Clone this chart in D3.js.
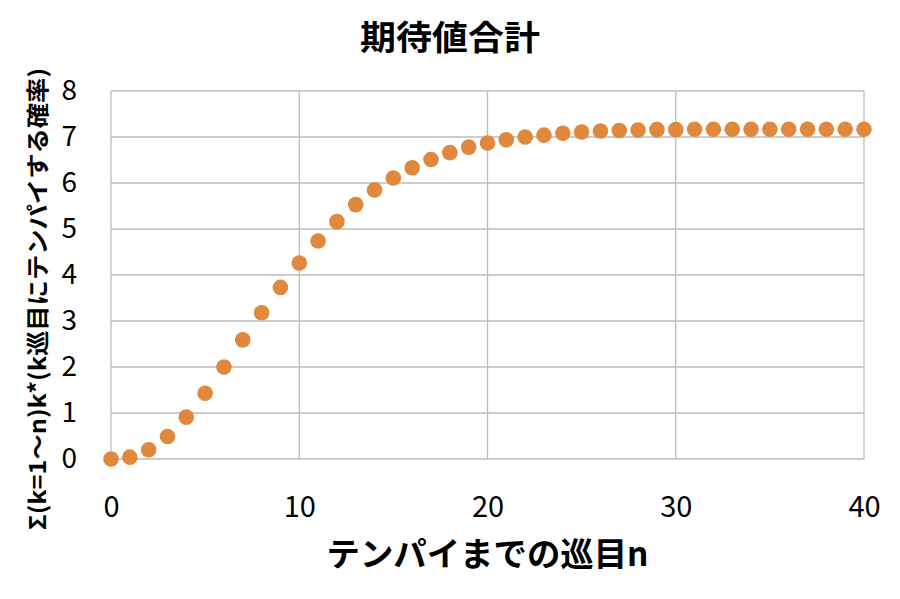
<!DOCTYPE html>
<html>
<head>
<meta charset="utf-8">
<script src="https://cdn.jsdelivr.net/npm/d3@7"></script>
<style>
  body { margin: 0; background: #fff; }
  text { font-family: "Noto Sans CJK JP", "Noto Sans", sans-serif; fill: #000; }
</style>
</head>
<body>
<div class="chart"></div>
<script>
// テンパイまでの巡目 n
const turns = d3.range(0, 41);
// 期待値合計 (各 n の値)
const expected = [
  0, 0.04, 0.2, 0.49, 0.91, 1.43, 2.0, 2.59, 3.18, 3.73,
  4.26, 4.74, 5.16, 5.53, 5.85, 6.11, 6.33, 6.51, 6.66, 6.78,
  6.87, 6.94, 7.0, 7.04, 7.08, 7.11, 7.13, 7.14, 7.15, 7.16,
  7.16, 7.17, 7.17, 7.17, 7.17, 7.17, 7.17, 7.17, 7.17, 7.17, 7.17
];
const xTicks = [0, 10, 20, 30, 40];
const yTicks = [0, 1, 2, 3, 4, 5, 6, 7, 8];

const titleText = "期待値合計";
const xTitle = "テンパイまでの巡目n";
const yTitle = "Σ(k=1～n)k*(k巡目にテンパイする確率)";

const points = turns.map((n, i) => ({ n: n, v: expected[i] }));

const svg_width = 900;
const svg_height = 599;
const margin = { top: 91, right: 36, bottom: 140, left: 111 };
const chart_width = svg_width - margin.left - margin.right;
const chart_height = svg_height - margin.top - margin.bottom;

const svg = d3.select('.chart').append('svg')
  .attr('width', svg_width).attr('height', svg_height);
const g = svg.append('g').attr('transform', `translate(${margin.left},${margin.top})`);

const x = d3.scaleLinear().domain([0, 40]).range([0, chart_width]);
const y = d3.scaleLinear().domain([0, 8]).range([chart_height, 0]);

// grid
g.append('g').selectAll('line').data(yTicks).enter().append('line')
  .attr('x1', 0).attr('x2', chart_width)
  .attr('y1', d => y(d)).attr('y2', d => y(d))
  .attr('stroke', '#bdbdbd').attr('stroke-width', 1.3);
g.append('g').selectAll('line').data(xTicks).enter().append('line')
  .attr('y1', 0).attr('y2', chart_height)
  .attr('x1', d => x(d)).attr('x2', d => x(d))
  .attr('stroke', '#bdbdbd').attr('stroke-width', 1.3);

// axes (labels only)
const xAxis = g.append('g').attr('transform', `translate(0,${chart_height})`)
  .call(d3.axisBottom(x).tickValues(xTicks).tickSize(0).tickPadding(37));
xAxis.select('.domain').remove();
xAxis.selectAll('text').attr('font-size', '29px').attr('fill', '#000')
  .style('font-family', '"Noto Sans CJK JP", sans-serif');

const yAxis = g.append('g')
  .call(d3.axisLeft(y).tickValues(yTicks).tickSize(0).tickPadding(34));
yAxis.select('.domain').remove();
yAxis.selectAll('text').attr('font-size', '28px').attr('fill', '#000')
  .style('font-family', '"Noto Sans CJK JP", sans-serif');

// markers
g.selectAll('.dot').data(points).enter().append('circle')
  .attr('class', 'dot')
  .attr('cx', d => x(d.n))
  .attr('cy', d => y(d.v))
  .attr('r', 7.8)
  .attr('fill', '#e0883c');

// titles
svg.append('text').attr('x', 450).attr('y', 50)
  .attr('text-anchor', 'middle').attr('font-size', '34px').attr('font-weight', 'bold')
  .attr('textLength', 180).attr('lengthAdjust', 'spacingAndGlyphs')
  .text(titleText);

svg.append('text').attr('x', margin.left + chart_width / 2).attr('y', 566)
  .attr('text-anchor', 'middle').attr('font-size', '33px').attr('font-weight', 'bold')
  .attr('textLength', 322).attr('lengthAdjust', 'spacingAndGlyphs')
  .text(xTitle);

svg.append('text')
  .attr('transform', 'translate(46,299) rotate(-90)')
  .attr('text-anchor', 'middle').attr('font-size', '23px').attr('font-weight', 'bold')
  .attr('textLength', 462).attr('lengthAdjust', 'spacingAndGlyphs')
  .text(yTitle);
</script>
</body>
</html>
